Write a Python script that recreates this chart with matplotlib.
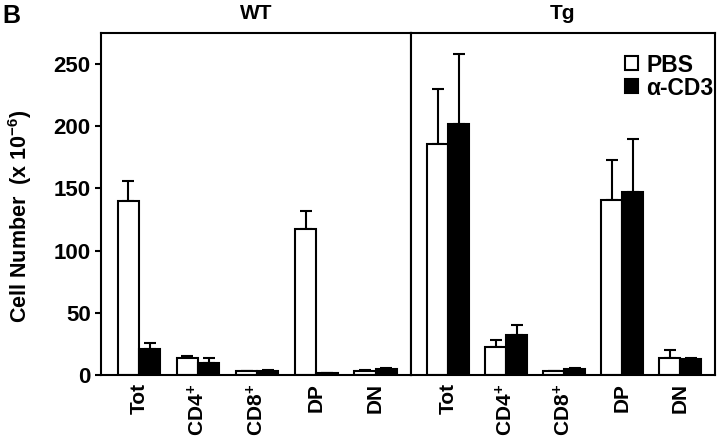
import numpy as np
import matplotlib
matplotlib.use("Agg")
from matplotlib import pyplot as plt
from matplotlib.patches import Patch

plt.rcParams['font.family'] = ['Liberation Sans', 'DejaVu Sans']
plt.rcParams['font.weight'] = 'bold'
plt.rcParams['mathtext.fontset'] = 'custom'
plt.rcParams['mathtext.rm'] = 'Liberation Sans'
plt.rcParams['mathtext.bf'] = 'Liberation Sans:bold'
plt.rcParams['mathtext.default'] = 'bf'

# subsets along the x axis
subsets = ["Tot", "CD$4^{\\!+}$", "CD$8^{\\!+}$", "DP", "DN"]

# WT mice
wt_pbs = [140, 14, 3, 117, 3.5]
wt_pbs_err = [16, 1.5, 0.5, 15, 0.5]
wt_cd3 = [21, 9.5, 3.5, 1.5, 4.5]
wt_cd3_err = [5, 4.5, 0.5, 0.5, 1.5]

# Tg mice
tg_pbs = [186, 22.5, 3, 141, 13.5]
tg_pbs_err = [44, 5.5, 0.5, 32, 6.5]
tg_cd3 = [202, 32, 5, 147, 12.5]
tg_cd3_err = [56, 8.5, 1, 43, 1]

fig = plt.figure(figsize=(7.2, 4.42), dpi=100)
left, right, bottom, top = 101/720, 715/720, 1-375/442, 1-33/442
mid = 411/720
ax1 = fig.add_axes([left, bottom, mid-left, top-bottom])
ax2 = fig.add_axes([mid, bottom, right-mid, top-bottom])

w = 0.36
x = np.arange(len(subsets))

def draw(ax, pbs, pbs_err, cd3, cd3_err, title):
    for vals, errs, off, col in [(pbs, pbs_err, -w/2, 'white'), (cd3, cd3_err, w/2, 'black')]:
        ax.bar(x+off, vals, width=w, color=col, edgecolor='black', linewidth=1.5, zorder=2)
        ax.errorbar(x+off, vals, yerr=[np.zeros(len(vals)), errs], fmt='none',
                    ecolor='black', elinewidth=1.5, capsize=4, capthick=1.5, zorder=1)
    ax.set_xlim(-0.64, 4.6)
    ax.set_ylim(0, 275)
    ax.set_xticks(x)
    ax.set_xticklabels(subsets, rotation=90, fontsize=15, fontweight='bold')
    ax.tick_params(axis='x', length=0, pad=6)
    ax.set_title(title, fontsize=15, fontweight='bold', pad=10)
    for s in ax.spines.values():
        s.set_linewidth(1.5)

draw(ax1, wt_pbs, wt_pbs_err, wt_cd3, wt_cd3_err, "WT")
draw(ax2, tg_pbs, tg_pbs_err, tg_cd3, tg_cd3_err, "Tg")

ax1.set_yticks([0, 50, 100, 150, 200, 250])
ax1.tick_params(axis='y', labelsize=16, width=1.5, length=4.5, pad=3)
for t in ax1.get_yticklabels():
    t.set_fontweight('bold')
ax1.set_ylabel("Cell Number  (x $10^{-6}$)", fontsize=15.5, fontweight='bold')
ax1.yaxis.set_label_coords(-0.215, 0.465)
ax2.set_yticks([])

handles = [Patch(facecolor='white', edgecolor='black', linewidth=1.5, label='PBS'),
           Patch(facecolor='black', edgecolor='black', linewidth=1.5, label='α-CD3')]
leg = ax2.legend(handles=handles, loc='upper right', bbox_to_anchor=(0.995, 0.94),
                 frameon=False, fontsize=16.5, handlelength=0.57, handleheight=0.57,
                 handletextpad=0.35, labelspacing=0.0, borderpad=0, borderaxespad=0)
for t in leg.get_texts():
    t.set_fontweight('bold')

fig.text(0.003, 0.99, "B", fontsize=18, fontweight='bold', va='top', ha='left')

plt.savefig("out.png", dpi=100)
